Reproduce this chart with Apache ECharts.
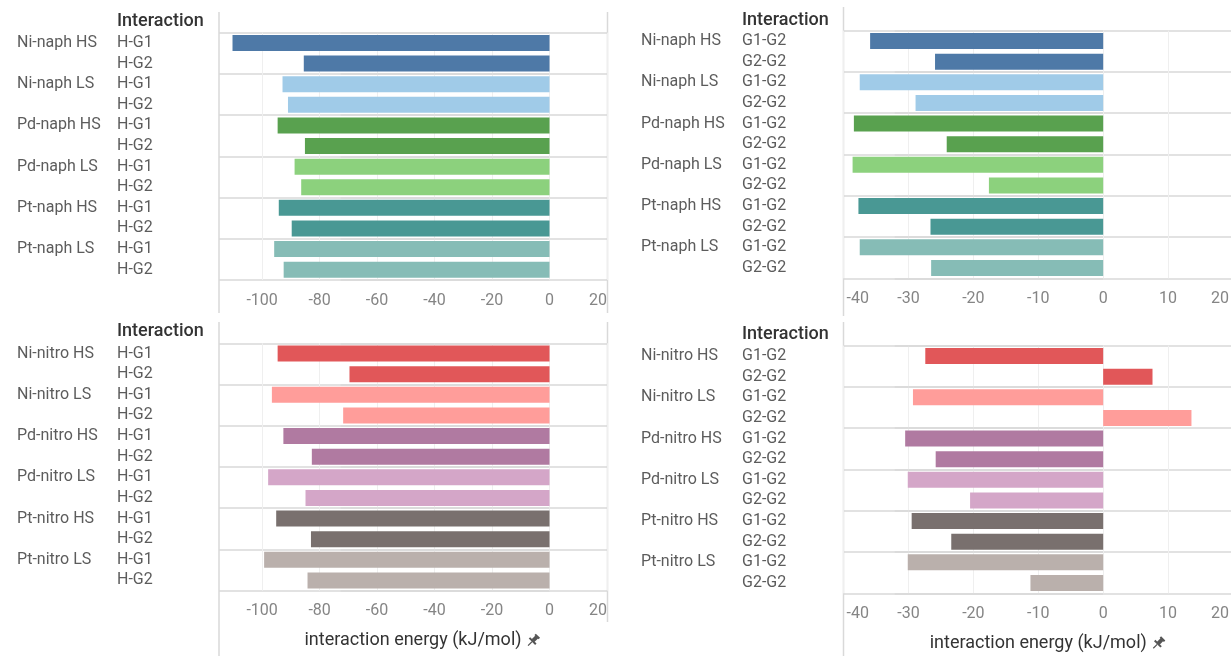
<!DOCTYPE html>
<html>
<head>
<meta charset="utf-8">
<script src="https://cdn.jsdelivr.net/npm/echarts@6/dist/echarts.min.js"></script>
<style>
  html, body { margin: 0; padding: 0; background: #ffffff; }
  #chart { width: 1231px; height: 656px; }
</style>
</head>
<body>
<div id="chart"></div>
<script>
// Complexes (row groups) and the pair interactions listed under each
const naphGroups = ['Ni-naph HS', 'Ni-naph LS', 'Pd-naph HS', 'Pd-naph LS', 'Pt-naph HS', 'Pt-naph LS'];
const nitroGroups = ['Ni-nitro HS', 'Ni-nitro LS', 'Pd-nitro HS', 'Pd-nitro LS', 'Pt-nitro HS', 'Pt-nitro LS'];
const hostPairs = ['H-G1', 'H-G2'];
const guestPairs = ['G1-G2', 'G2-G2'];

// Interaction energies (kJ/mol), two rows per complex in the order of the pair lists
const naphHostEnergy = [-110.3, -85.5, -92.9, -91.0, -94.6, -85.1, -88.7, -86.4, -94.2, -89.7, -95.8, -92.5];
const naphGuestEnergy = [-35.9, -25.9, -37.5, -28.9, -38.4, -24.1, -38.6, -17.6, -37.7, -26.6, -37.5, -26.5];
const nitroHostEnergy = [-94.6, -69.6, -96.6, -71.8, -92.6, -82.7, -97.9, -84.9, -95.1, -83.0, -99.3, -84.2];
const nitroGuestEnergy = [-27.4, 7.6, -29.3, 13.6, -30.5, -25.8, -30.1, -20.5, -29.5, -23.4, -30.1, -11.2];

// One colour per complex
const naphColors = ['#4e79a7', '#a0cbe8', '#59a14f', '#8cd17d', '#499894', '#86bcb6'];
const nitroColors = ['#e15759', '#ff9d9a', '#b07aa1', '#d4a6c8', '#79706e', '#bab0ac'];

// Axis tick labels
const hostTicks = [-100, -80, -60, -40, -20, 0, 20];
const guestTicks = [-40, -30, -20, -10, 0, 10, 20];

const headerText = 'Interaction';
const axisTitle = 'interaction energy (kJ/mol)';

const FONT = 'Roboto';
const ROW_COLOR = '#5c5c5c';
const TICK_COLOR = '#858585';
const RULE_COLOR = '#d9d9d9';

// Layout of the four panels
const panels = [
  { groups: naphGroups, pairs: hostPairs, values: naphHostEnergy, colors: naphColors, ticks: hostTicks,
    min: -115, max: 20, box: { left: 219, top: 32.7, width: 388, height: 247.3 },
    labelX: 17, pairX: 117, ruleLeft: 10, frame: [12, 313], rightFrame: true, headerY: 21.7, title: false },
  { groups: naphGroups, pairs: guestPairs, values: naphGuestEnergy, colors: naphColors, ticks: guestTicks,
    min: -40, max: 20, box: { left: 843.5, top: 30.7, width: 389.5, height: 247.6 },
    labelX: 641, pairX: 742, ruleLeft: 635, frame: [7, 316], rightFrame: false, headerY: 20, title: false },
  { groups: nitroGroups, pairs: hostPairs, values: nitroHostEnergy, colors: nitroColors, ticks: hostTicks,
    min: -115, max: 20, box: { left: 219, top: 343.3, width: 388, height: 247.4 },
    labelX: 17, pairX: 117, ruleLeft: 10, frame: [322, 656], rightFrame: true, headerY: 331.7, title: true },
  { groups: nitroGroups, pairs: guestPairs, values: nitroGuestEnergy, colors: nitroColors, ticks: guestTicks,
    min: -40, max: 20, box: { left: 843.5, top: 345.7, width: 389.5, height: 247.6 },
    labelX: 641, pairX: 742, ruleLeft: 635, frame: [322, 656], rightFrame: false, headerY: 334.3, title: true }
];

const option = {
  animation: false,
  textStyle: { fontFamily: FONT },
  grid: [], xAxis: [], yAxis: [], series: [], graphic: []
};

const everyGroup = (i) => i % 2 === 0;

panels.forEach((p, k) => {
  const rows = [];
  p.groups.forEach(g => p.pairs.forEach(q => rows.push(g + ' ' + q)));

  option.grid.push({
    left: p.box.left, top: p.box.top, width: p.box.width, height: p.box.height,
    containLabel: false, outerBoundsMode: 'none'
  });

  option.yAxis.push({
    type: 'category', gridIndex: k, inverse: true, data: rows,
    axisLine: { show: false },
    axisTick: {
      show: true, alignWithLabel: false, interval: everyGroup,
      length: p.box.left - p.ruleLeft, lineStyle: { color: RULE_COLOR, width: 1.5 }
    },
    splitLine: { show: true, interval: everyGroup, lineStyle: { color: RULE_COLOR, width: 1.5 } },
    axisLabel: {
      interval: 0, align: 'left', margin: p.box.left - p.labelX,
      formatter: (v, i) => {
        const g = i % 2 === 0 ? p.groups[i / 2] : ' ';
        return '{g|' + g + '}{q|' + p.pairs[i % 2] + '}';
      },
      rich: {
        g: { width: p.pairX - p.labelX, fontSize: 16, color: ROW_COLOR, fontFamily: FONT },
        q: { fontSize: 16, color: ROW_COLOR, fontFamily: FONT }
      }
    }
  });

  const isGuest = p.min === -40;
  const tickText = { color: TICK_COLOR, fontSize: 16, fontFamily: FONT };
  option.xAxis.push({
    type: 'value', gridIndex: k, min: p.min, max: p.max,
    axisLine: { show: false },
    axisTick: { show: false, customValues: p.ticks },
    splitLine: { show: true, lineStyle: { color: '#efefef', width: 1 } },
    axisLabel: {
      customValues: p.ticks, margin: 12.5, color: TICK_COLOR, fontSize: 16, fontFamily: FONT,
      alignMinLabel: isGuest ? 'left' : null, alignMaxLabel: 'right', hideOverlap: false,
      // edge labels of the narrower panels sit a few pixels inside the frame
      formatter: (v) => {
        if (!isGuest) return String(v);
        if (v === p.min) return '{lo|' + v + '}';
        if (v === p.max) return '{hi|' + v + '}';
        return String(v);
      },
      rich: {
        lo: Object.assign({ padding: [0, 0, 0, 3] }, tickText),
        hi: Object.assign({ padding: [0, 4, 0, 0] }, tickText)
      }
    },
    name: p.title ? axisTitle : '',
    nameLocation: 'middle', nameGap: 41,
    nameTextStyle: { color: '#333333', fontSize: 18, fontFamily: FONT }
  });

  option.series.push({
    type: 'bar', xAxisIndex: k, yAxisIndex: k, barWidth: 16,
    data: p.values.map((v, i) => ({ value: v, itemStyle: { color: p.colors[Math.floor(i / 2)] } }))
  });

  // panel frame lines
  option.graphic.push({
    type: 'line', silent: true,
    shape: { x1: p.box.left, y1: p.frame[0], x2: p.box.left, y2: p.frame[1] },
    style: { stroke: RULE_COLOR, lineWidth: 1.5 }
  });
  if (p.rightFrame) {
    const xr = p.box.left + p.box.width + 0.5;
    option.graphic.push({
      type: 'line', silent: true,
      shape: { x1: xr, y1: p.frame[0], x2: xr, y2: p.title ? 622 : p.frame[1] },
      style: { stroke: RULE_COLOR, lineWidth: 1.5 }
    });
  }

  // column header
  option.graphic.push({
    type: 'text', x: p.pairX, y: p.headerY,
    style: { text: headerText, fill: '#333333', font: '500 18px ' + FONT, textVerticalAlign: 'middle' }
  });

  // pin marker after the axis title
  if (p.title) {
    const cx = p.box.left + p.box.width / 2 + 120;
    const cy = p.box.top + p.box.height + 50;
    option.graphic.push({
      type: 'group', x: cx, y: cy, rotation: -Math.PI / 4, silent: true,
      children: [
        { type: 'rect', shape: { x: -3, y: -7, width: 6, height: 2 }, style: { fill: '#555555' } },
        { type: 'rect', shape: { x: -2, y: -5.5, width: 4, height: 5.5 }, style: { fill: '#555555' } },
        { type: 'rect', shape: { x: -4.5, y: -0.5, width: 9, height: 2 }, style: { fill: '#555555' } },
        { type: 'line', shape: { x1: 0, y1: 1.5, x2: 0, y2: 7 }, style: { stroke: '#555555', lineWidth: 1.2 } }
      ]
    });
  }
});

const chart = echarts.init(document.getElementById('chart'), null, { renderer: 'canvas' });
chart.setOption(option);
</script>
</body>
</html>
